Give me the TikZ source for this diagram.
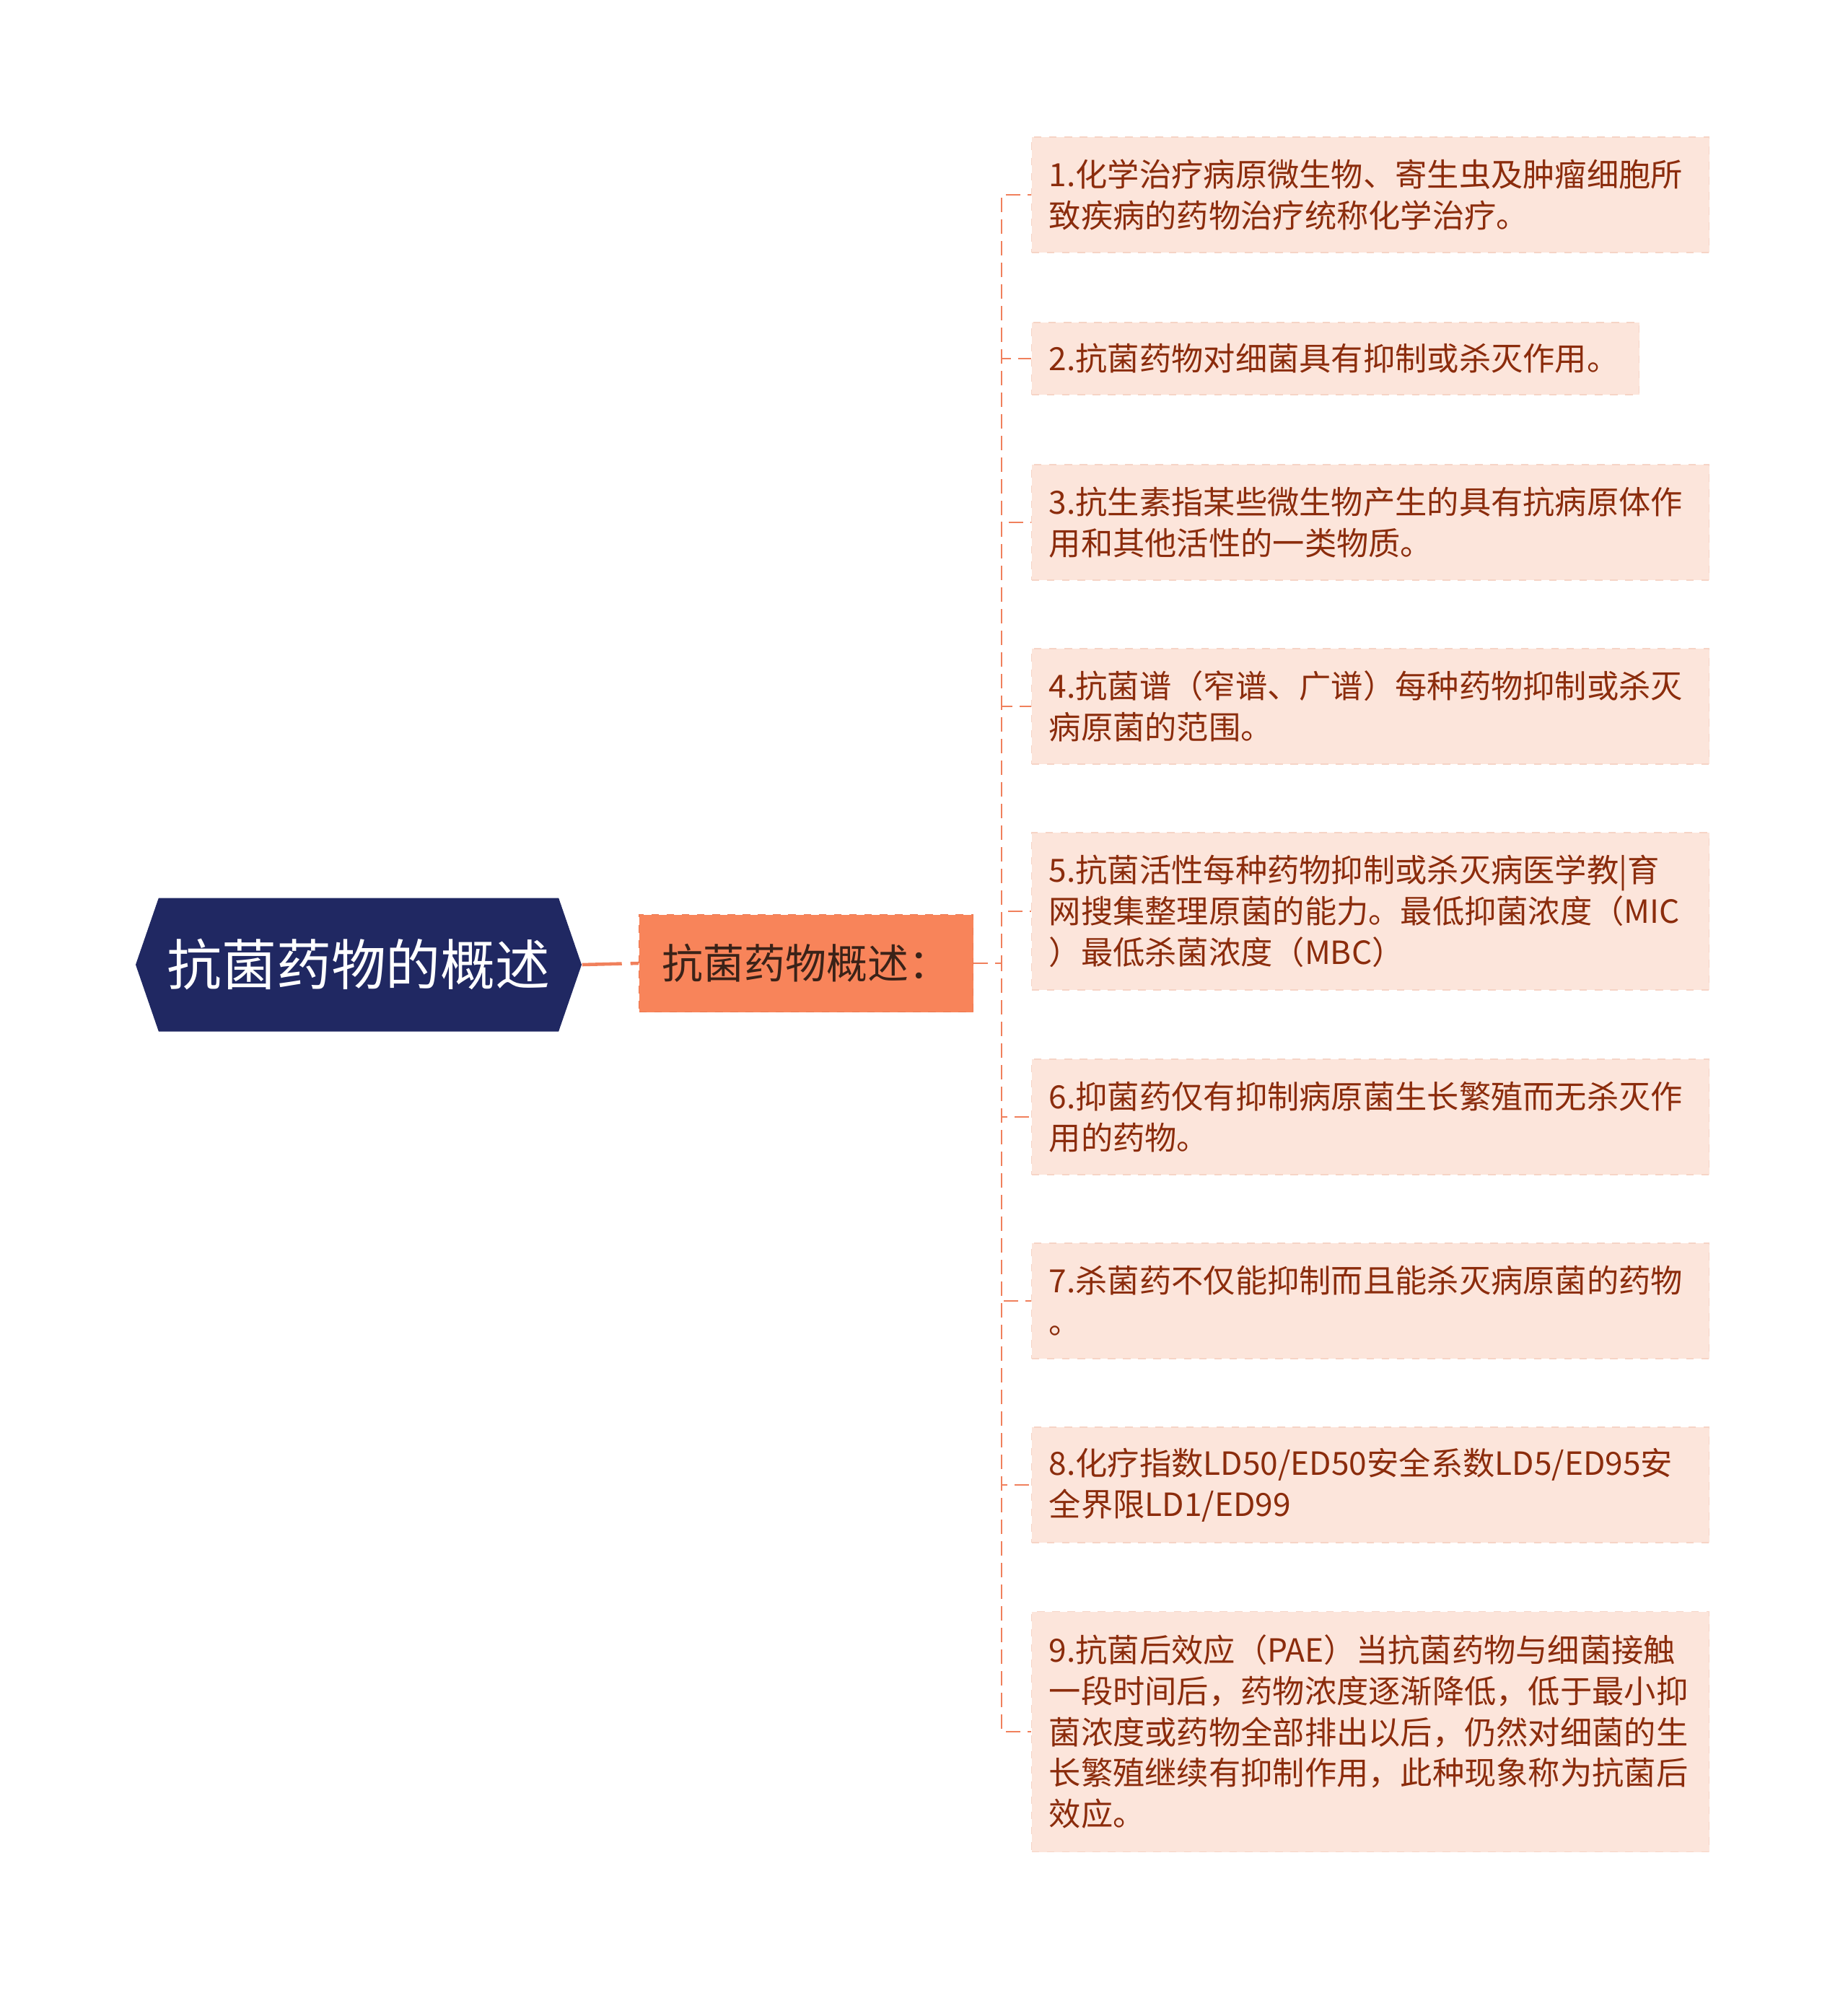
\documentclass[tikz,border=0pt]{standalone}
\usepackage{fontspec}
\setmainfont{Noto Sans CJK SC}
\definecolor{rootnavy}{RGB}{32, 40, 98}
\definecolor{overorange}{RGB}{248, 132, 90}
\definecolor{overline}{RGB}{236, 118, 78}
\definecolor{linkorange}{RGB}{240, 128, 92}
\definecolor{leaffill}{RGB}{252, 229, 219}
\definecolor{leafline}{RGB}{246, 212, 198}
\definecolor{leaftext}{RGB}{139, 44, 12}
\definecolor{overtext}{RGB}{58, 34, 24}
\usetikzlibrary{shapes.symbols, positioning}

\begin{document}
\begin{tikzpicture}[
  rootnode/.style={signal, signal to=west and east, signal pointer angle=142,
                   fill=rootnavy, text=white, minimum width=6.18cm, minimum height=1.85cm,
                   inner sep=0pt, font=\fontsize{21.6}{26}\selectfont},
  overnode/.style={rectangle, fill=overorange, draw=overline, dashed, text=overtext,
                   minimum width=4.63cm, minimum height=1.35cm, inner sep=0pt,
                   font=\fontsize{16.2}{20}\selectfont},
  leaf/.style={rectangle, fill=leaffill, draw=leafline, dashed, text=leaftext, anchor=west,
               text width=8.91cm, inner xsep=0.24cm, inner ysep=0pt, align=left,
               font=\fontsize{12.6}{16.2}\selectfont},
  link/.style={draw=linkorange, line width=0.7pt, dash pattern=on 0.2cm off 0.1cm},
  rootlink/.style={draw=linkorange, line width=1.3pt, dash pattern=on 0.55cm off 0.12cm},
]
\useasboundingbox (0,0) rectangle (25.6,-27.58);

\node[rootnode] (root) at (4.97,-13.37) {抗菌药物的概述};
\node[overnode] (over) at (11.17,-13.35) {抗菌药物概述：};
\coordinate (trunk) at (13.88,0);

% leaves
\node[leaf, minimum height=1.6cm] (leaf1) at (14.29,-2.70)
  {1.化学治疗病原微生物、寄生虫及肿瘤细胞所\\致疾病的药物治疗统称化学治疗。};
\node[leaf, minimum height=1.0cm, text width=7.94cm] (leaf2) at (14.29,-4.97)
  {2.抗菌药物对细菌具有抑制或杀灭作用。};
\node[leaf, minimum height=1.6cm] (leaf3) at (14.29,-7.24)
  {3.抗生素指某些微生物产生的具有抗病原体作\\用和其他活性的一类物质。};
\node[leaf, minimum height=1.6cm] (leaf4) at (14.29,-9.79)
  {4.抗菌谱（窄谱、广谱）每种药物抑制或杀灭\\病原菌的范围。};
\node[leaf, minimum height=2.18cm] (leaf5) at (14.29,-12.63)
  {5.抗菌活性每种药物抑制或杀灭病医学教|育\\网搜集整理原菌的能力。最低抑菌浓度（MIC\\）最低杀菌浓度（MBC）};
\node[leaf, minimum height=1.6cm] (leaf6) at (14.29,-15.48)
  {6.抑菌药仅有抑制病原菌生长繁殖而无杀灭作\\用的药物。};
\node[leaf, minimum height=1.6cm] (leaf7) at (14.29,-18.03)
  {7.杀菌药不仅能抑制而且能杀灭病原菌的药物\\。};
\node[leaf, minimum height=1.6cm] (leaf8) at (14.29,-20.58)
  {8.化疗指数LD50/ED50安全系数LD5/ED95安\\全界限LD1/ED99};
\node[leaf, minimum height=3.33cm] (leaf9) at (14.29,-24.00)
  {9.抗菌后效应（PAE）当抗菌药物与细菌接触\\一段时间后，药物浓度逐渐降低，低于最小抑\\菌浓度或药物全部排出以后，仍然对细菌的生\\长繁殖继续有抑制作用，此种现象称为抗菌后\\效应。};

% connectors
\draw[rootlink] (root.east) -- (over.west);
\draw[link] (over.east) -- (trunk |- over.east) |- (leaf1.west);
\draw[link] (over.east) -- (trunk |- over.east) |- (leaf2.west);
\draw[link] (over.east) -- (trunk |- over.east) |- (leaf3.west);
\draw[link] (over.east) -- (trunk |- over.east) |- (leaf4.west);
\draw[link] (over.east) -- (trunk |- over.east) |- (leaf5.west);
\draw[link] (over.east) -- (trunk |- over.east) |- (leaf6.west);
\draw[link] (over.east) -- (trunk |- over.east) |- (leaf7.west);
\draw[link] (over.east) -- (trunk |- over.east) |- (leaf8.west);
\draw[link] (over.east) -- (trunk |- over.east) |- (leaf9.west);
\end{tikzpicture}
\end{document}
